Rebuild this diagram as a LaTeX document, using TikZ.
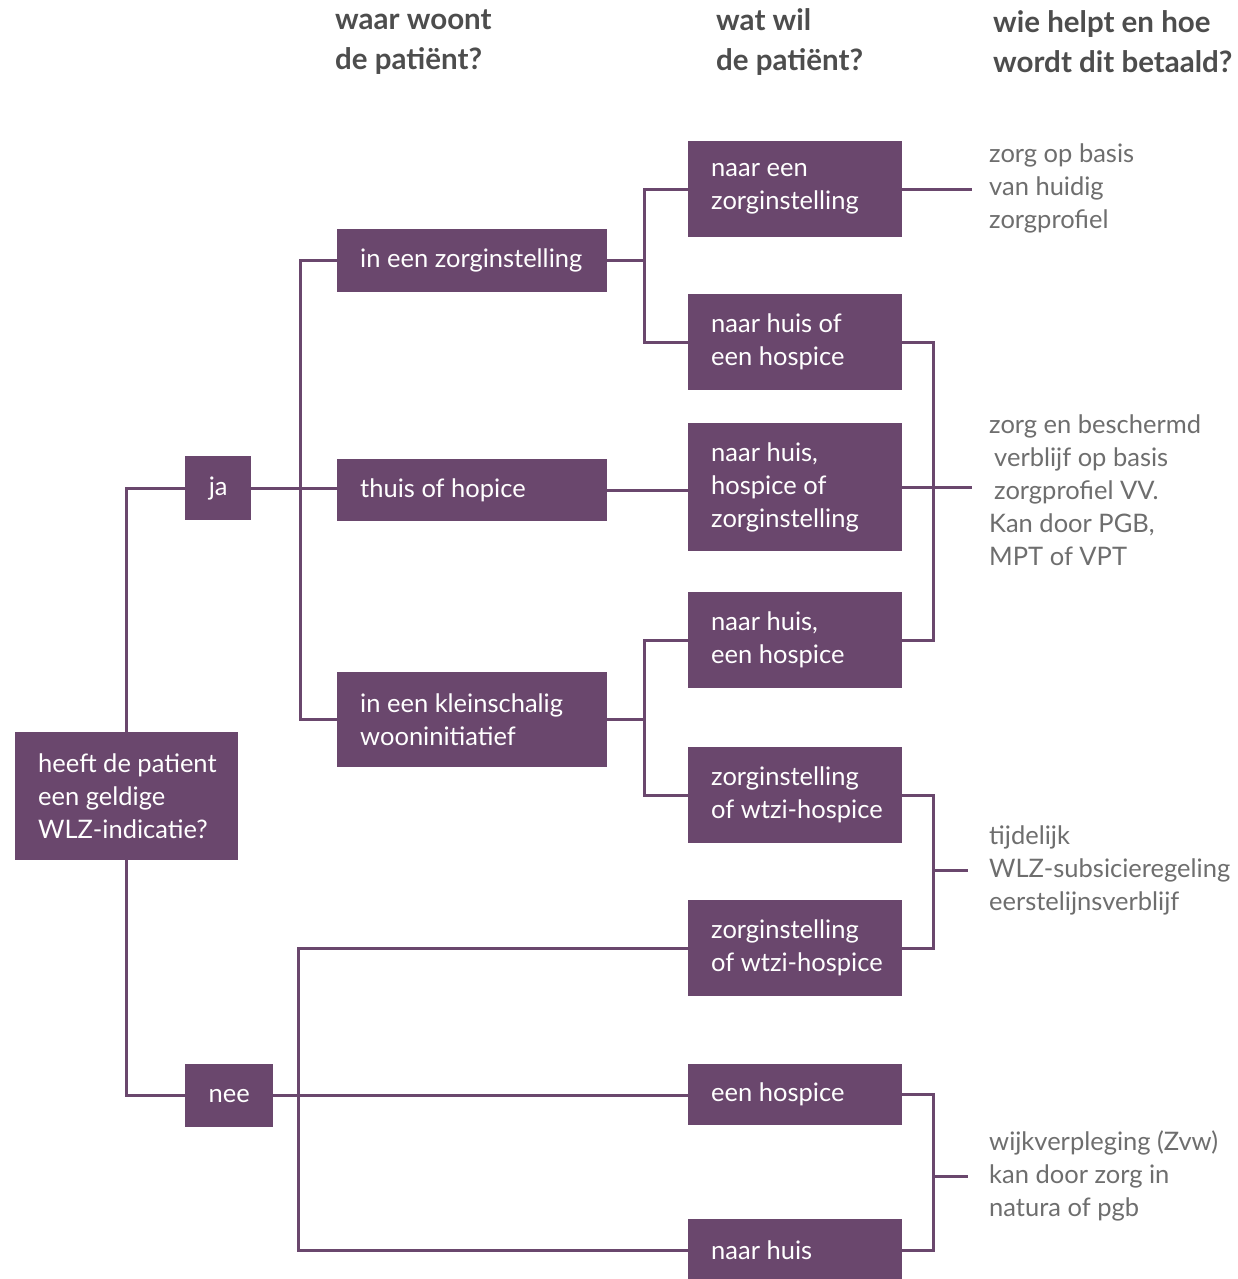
\documentclass[tikz,border=0pt]{standalone}
\usepackage{fontspec}
\setmainfont{Lato}
\definecolor{plum}{HTML}{6A476D}
\definecolor{notegrey}{HTML}{6E6E6E}
\definecolor{headgrey}{HTML}{4D4D4D}
% name, x, y, width, height, text
\newcommand\plumbox[6]{%
  \node[boxshape, minimum width=#4pt, minimum height=#5pt] (#1) at (#2,#3) {};
  \node[boxtext] (#1-t) at ([xshift=23pt]#1.west) {#6};
}
\begin{document}
\begin{tikzpicture}[x=1pt,y=-1pt,
  boxshape/.style={fill=plum, anchor=north west, inner sep=0pt},
  boxtext/.style={text=white, anchor=west, align=left, inner sep=0pt, font=\fontsize{25.5}{33}\selectfont},
  smallbox/.style={fill=plum, text=white, anchor=north west, align=center, inner sep=0pt, font=\fontsize{25.5}{33}\selectfont},
  conn/.style={draw=plum, line width=3pt},
  note/.style={text=notegrey, anchor=west, align=left, inner sep=0pt, font=\fontsize{25.5}{33}\selectfont},
  head/.style={text=headgrey, anchor=west, align=left, inner sep=0pt, font=\bfseries\fontsize{29.5}{40}\selectfont}]
\useasboundingbox[fill=white] (0,0) rectangle (1238,1279);

% headers
\node[head] (hd1) at (335,42) {waar woont\\de patiënt?};
\node[head] (hd2) at (716,42) {wat wil\\de patiënt?};
\node[head] (hd3) at (993,42) {wie helpt en hoe\\wordt dit betaald?};

% bus coordinates
\coordinate (bA) at (300,0);
\coordinate (bB) at (644,0);
\coordinate (bC) at (298,0);
\coordinate (bD) at (933,0);
\coordinate (o1) at (972,189);
\coordinate (o2) at (972,489);
\coordinate (o3) at (968,870);
\coordinate (o4) at (968,1176);

% boxes
\plumbox{root}{15}{732}{223}{128}{heeft de patient\\een geldige\\WLZ-indicatie?}
\node[smallbox, minimum width=66pt, minimum height=64pt] (ja) at (185,456) {ja};
\node[smallbox, minimum width=88pt, minimum height=63pt] (nee) at (185,1064) {nee};

\plumbox{zi}{337}{229}{270}{63}{in een zorginstelling}
\plumbox{thuis}{337}{459}{270}{62}{thuis of hopice}
\plumbox{klein}{337}{672}{270}{95}{in een kleinschalig\\wooninitiatief}

\plumbox{t1}{688}{141}{214}{96}{naar een\\zorginstelling}
\plumbox{t2}{688}{294}{214}{96}{naar huis of\\een hospice}
\plumbox{t3}{688}{423}{214}{128}{naar huis,\\hospice of\\zorginstelling}
\plumbox{t4}{688}{592}{214}{96}{naar huis,\\een hospice}
\plumbox{t5}{688}{747}{214}{96}{zorginstelling\\of wtzi-hospice}
\plumbox{t6}{688}{900}{214}{96}{zorginstelling\\of wtzi-hospice}
\plumbox{h1}{688}{1064}{214}{61}{een hospice}
\plumbox{h2}{688}{1219}{214}{62}{naar huis}

% connectors
\draw[conn] (root.north) |- (ja.west);
\draw[conn] (root.south) |- (nee.west);
\draw[conn] (ja.east) -- (ja.east -| thuis.west);
\draw[conn] (zi.west) -- (zi.west -| bA) -- (klein.west -| bA) -- (klein.west);
\draw[conn] (thuis.east) -- (thuis.east -| t3.west);
\draw[conn] (zi.east) -- (zi.east -| bB);
\draw[conn] (t1.west) -- (t1.west -| bB) -- (t2.west -| bB) -- (t2.west);
\draw[conn] (klein.east) -- (klein.east -| bB);
\draw[conn] (t4.west) -- (t4.west -| bB) -- (t5.west -| bB) -- (t5.west);
\draw[conn] (nee.east) -- (nee.east -| h1.west);
\draw[conn] (t6.west) -- (t6.west -| bC) -- (h2.west -| bC) -- (h2.west);

\draw[conn] (t1.east) -- (t1.east -| o1);
\draw[conn] (t2.east) -- (t2.east -| bD) -- (t4.east -| bD) -- (t4.east);
\draw[conn] (t3.east) -- (t3.east -| o2);
\draw[conn] (t5.east) -- (t5.east -| bD) -- (t6.east -| bD) -- (t6.east);
\draw[conn] (o3 -| bD) -- (o3);
\draw[conn] (h1.east) -- (h1.east -| bD) -- (h2.east -| bD) -- (h2.east);
\draw[conn] (o4 -| bD) -- (o4);

% notes
\node[note] (n1) at (989,188) {zorg op basis\\van huidig\\zorgprofiel};
\node[note] (n2) at (989,490) {zorg en beschermd\\\hspace{5pt}verblijf op basis\\\hspace{5pt}zorgprofiel VV.\\Kan door PGB,\\MPT of VPT};
\node[note] (n3) at (989,870) {tijdelijk\\WLZ-subsicieregeling\\eerstelijnsverblijf};
\node[note] (n4) at (989,1176) {wijkverpleging (Zvw)\\kan door zorg in\\natura of pgb};
\end{tikzpicture}
\end{document}
